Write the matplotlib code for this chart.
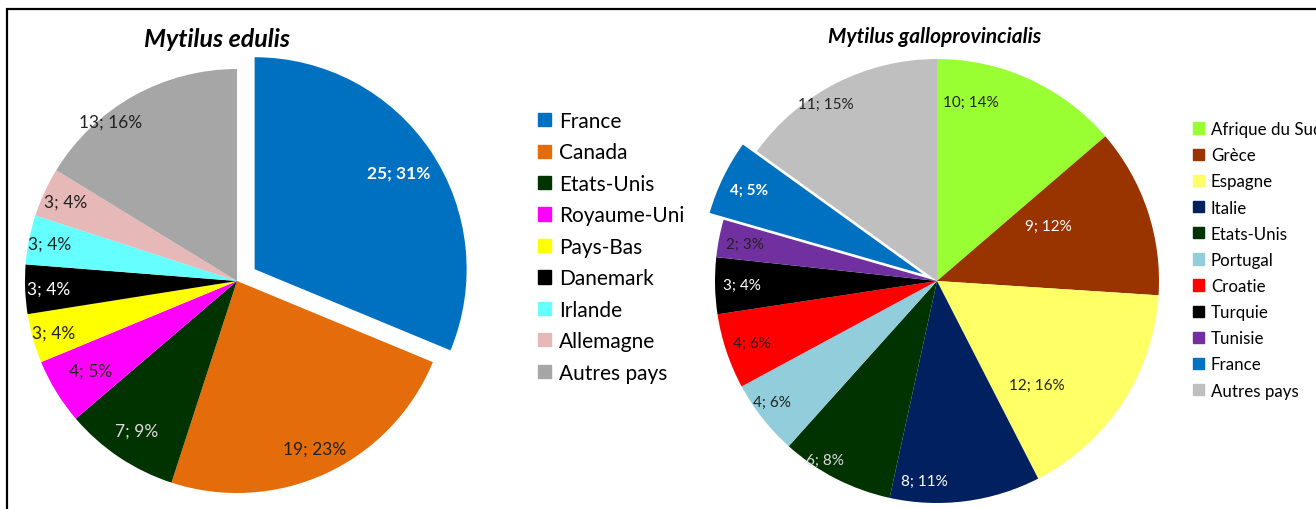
import numpy as np
import matplotlib.pyplot as plt
from matplotlib.patches import Patch, Rectangle

plt.rcParams['font.family'] = ['Lato', 'DejaVu Sans']

# Mytilus edulis
pays_edulis = ["France", "Canada", "Etats-Unis", "Royaume-Uni", "Pays-Bas",
               "Danemark", "Irlande", "Allemagne", "Autres pays"]
n_edulis = [25, 19, 7, 4, 3, 3, 3, 3, 13]
pct_edulis = [31, 23, 9, 5, 4, 4, 4, 4, 16]

# Mytilus galloprovincialis
pays_gallo = ["Afrique du Sud", "Grèce", "Espagne", "Italie", "Etats-Unis",
              "Portugal", "Croatie", "Turquie", "Tunisie", "France", "Autres pays"]
n_gallo = [10, 9, 12, 8, 6, 4, 4, 3, 2, 4, 11]
pct_gallo = [14, 12, 16, 11, 8, 6, 6, 4, 3, 5, 15]

col_edulis = ["#0070C0", "#E46C0A", "#003300", "#FF00FF", "#FFFF00",
              "#000000", "#66FFFF", "#E6B9B8", "#A6A6A6"]
txt_edulis = ["white", "#222222", "#dddddd", "#222222", "#222222",
              "white", "#222222", "#222222", "#222222"]
col_gallo = ["#99FF33", "#993300", "#FFFF66", "#002060", "#003300",
             "#92CDDC", "#FF0000", "#000000", "#7030A0", "#0070C0", "#BFBFBF"]
txt_gallo = ["#222222", "white", "#222222", "white", "#dddddd",
             "#222222", "#222222", "white", "#222222", "white", "#222222"]

# placement des étiquettes (fraction du rayon, décalage angulaire en degrés)
lab_r_edulis = [0.82, 0.87, 0.85, 0.81, 0.90, 0.89, 0.90, 0.89, 0.96]
lab_a_edulis = [0, 0, 0, 0, 0, 0, 0, 0, 9]
lab_r_gallo = [0.82, 0.56, 0.65, 0.90, 0.95, 0.92, 0.88, 0.88, 0.88, 0.87, 0.94]
lab_a_gallo = [14, 8, -13, -11, -5, -2, 0, 0, 0, 0, 5]

W, H = 1316, 510
fig = plt.figure(figsize=(W / 100, H / 100), dpi=100)


def pie_axes(cx, cy, r):
    ax = fig.add_axes([(cx - r) / W, (H - cy - r) / H, 2 * r / W, 2 * r / H])
    return ax


def draw_pie(ax, values, pcts, colors, txtcols, explode_idx, explode, lab_r, lab_a, fs):
    expl = [explode if i == explode_idx else 0 for i in range(len(values))]
    labels = [f"{v}; {p}%" for v, p in zip(values, pcts)]
    wedges, texts = ax.pie(values, colors=colors, startangle=90, counterclock=False,
                           explode=expl, labels=labels,
                           wedgeprops=dict(linewidth=0), radius=1,
                           textprops=dict(fontsize=fs, ha="center", va="center"))
    ax.set_xlim(-1, 1)
    ax.set_ylim(-1, 1)
    ax.set_aspect("equal")
    ax.axis("off")
    for w in wedges:
        w.set_clip_on(False)
    for i, (w, t) in enumerate(zip(wedges, texts)):
        theta = np.deg2rad((w.theta1 + w.theta2) / 2 + lab_a[i])
        cx, cy = w.center
        t.set_position((cx + lab_r[i] * w.r * np.cos(theta),
                        cy + lab_r[i] * w.r * np.sin(theta)))
        t.set_color(txtcols[i])
        t.set_ha("center")
        t.set_va("center")
        if i == explode_idx:
            t.set_fontweight("bold")
    return wedges


ax1 = pie_axes(237, 282, 212)
draw_pie(ax1, n_edulis, pct_edulis, col_edulis, txt_edulis, 0, 0.10,
         lab_r_edulis, lab_a_edulis, 12.5)

ax2 = pie_axes(937, 282, 222)
draw_pie(ax2, n_gallo, pct_gallo, col_gallo, txt_gallo, 9, 0.07,
         lab_r_gallo, lab_a_gallo, 11)

fig.text(217 / W, 1 - 40 / H, "Mytilus edulis", fontsize=18, fontweight="bold",
         fontstyle="italic", ha="center", va="center")
fig.text(935 / W, 1 - 37 / H, "Mytilus galloprovincialis", fontsize=15,
         fontweight="bold", fontstyle="italic", ha="center", va="center")

h1 = [Patch(color=c) for c in col_edulis]
fig.legend(h1, pays_edulis, loc="upper left", bbox_to_anchor=(538 / W, 1 - 112 / H),
           frameon=False, fontsize=15, handlelength=0.6, handleheight=0.6,
           handletextpad=0.4, labelspacing=0.55, borderpad=0, borderaxespad=0)

h2 = [Patch(color=c) for c in col_gallo]
fig.legend(h2, pays_gallo, loc="upper left", bbox_to_anchor=(1193 / W, 1 - 122 / H),
           frameon=False, fontsize=12.2, handlelength=0.65, handleheight=0.65,
           handletextpad=0.4, labelspacing=0.6, borderpad=0, borderaxespad=0)

# cadre
fig.add_artist(Rectangle((7 / W, -0.2), 1.2, 1.2 - 10 / H, transform=fig.transFigure,
                         fill=False, edgecolor="black", linewidth=1.6))

fig.savefig("out.png", dpi=100)
